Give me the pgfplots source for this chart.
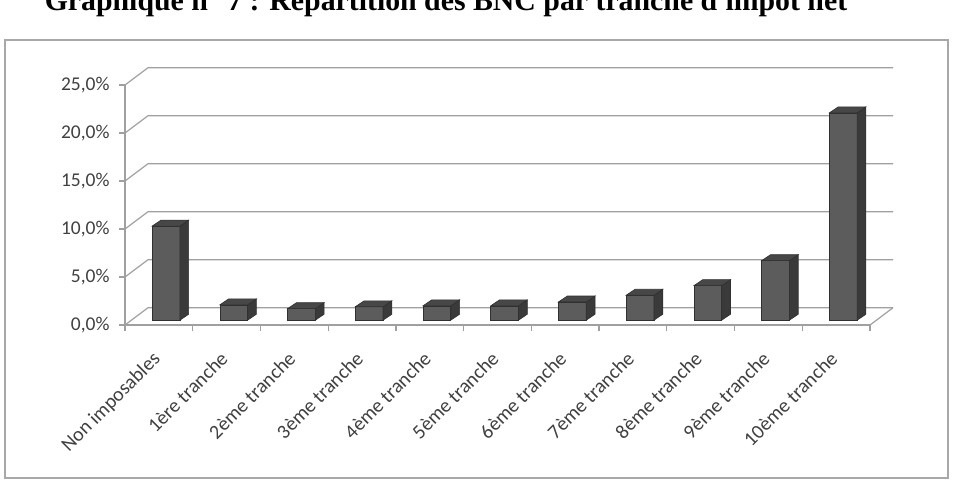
\documentclass[border=0pt]{standalone}
\usepackage{pgfplots}
\pgfplotsset{compat=1.18}
\usepackage{pgfplotstable}
\usepackage{fontspec}
\setmainfont{Carlito}
\newfontfamily\titlefont{Liberation Serif}
\definecolor{barfront}{HTML}{5C5C5C}
\definecolor{barside}{HTML}{3A3A3A}
\definecolor{bartop}{HTML}{474747}
\definecolor{baredge}{HTML}{303030}
\definecolor{gridc}{HTML}{A0A0A0}
\definecolor{labc}{HTML}{404040}
\definecolor{framec}{HTML}{A8A8A8}

\pgfplotstableread{
cat v
0 9.8
1 1.6
2 1.2
3 1.4
4 1.5
5 1.5
6 1.9
7 2.6
8 3.6
9 6.2
10 21.6
}\bnc

\begin{document}
\begin{tikzpicture}[x=1pt,y=1pt]
\useasboundingbox (0,0) rectangle (954,480);
\node[font=\titlefont\bfseries\fontsize{29.8}{32}\selectfont, anchor=base, inner sep=0pt] at (446,469) {Graphique n° 7 : Répartition des BNC par tranche d'impôt net};
\draw[framec, line width=1.2pt] (5,2) rectangle (948,440);
\begin{axis}[
  at={(125pt,155pt)}, anchor=south west,
  scale only axis, width=745pt, height=240pt,
  xmin=-0.5, xmax=10.5, ymin=0, ymax=25,
  clip=false,
  axis lines*=left,
  axis line style={gridc, line width=1.2pt},
  tick align=outside,
  ytick={0,5,...,25},
  yticklabel={\pgfmathprintnumber[fixed,fixed zerofill,precision=1,use comma,assume math mode=true]{\tick}\%},
  yticklabel style={font=\fontsize{19.5}{22}\selectfont, text=labc, xshift=-6pt},
  y tick style={gridc, line width=1.2pt},
  major tick length=6pt,
  minor tick length=6pt,
  xtick={0,...,10},
  minor xtick={-0.5,0.5,...,10.5},
  major x tick style={draw=none},
  minor x tick style={gridc, line width=1.2pt},
  xticklabels={Non imposables,1ère tranche,2ème tranche,3ème tranche,4ème tranche,5ème tranche,6ème tranche,7ème tranche,8ème tranche,9ème tranche,10ème tranche},
  xticklabel style={font=\fontsize{20}{22}\selectfont, text=labc, rotate=45, anchor=north east, xshift=-15.5pt, yshift=-5pt},
]
% back wall gridlines and floor
\pgfplotsinvokeforeach{0,5,...,25}{
  \draw[gridc, line width=1.2pt] (axis cs:-0.5,#1) -- (axis cs:-0.16,#1+1.8) -- (axis cs:10.84,#1+1.8);
}
\draw[gridc, line width=1.2pt] (axis cs:10.5,0) -- (axis cs:10.84,1.8);
% 3D bars drawn from the table values
\pgfplotsinvokeforeach{0,...,10}{
  \pgfplotstablegetelem{#1}{v}\of\bnc
  \pgfmathsetmacro\xl{#1-0.1}
  \pgfmathsetmacro\xr{#1+0.31}
  \pgfmathsetmacro\xs{#1+0.31+0.13}
  \pgfmathsetmacro\xt{#1-0.1+0.13}
  \pgfmathsetmacro\yb{0.5}
  \pgfmathsetmacro\yt{0.5+\pgfplotsretval}
  \pgfmathsetmacro\ytt{0.5+\pgfplotsretval+0.62}
  \pgfmathsetmacro\ybb{0.5+0.62}
  \edef\dobar{%
    \noexpand\addplot[fill=barfront, draw=baredge, line width=0.6pt] coordinates {(\xl,\yb) (\xr,\yb) (\xr,\yt) (\xl,\yt)} -- cycle;
    \noexpand\addplot[fill=barside, draw=baredge, line width=0.6pt] coordinates {(\xr,\yb) (\xs,\ybb) (\xs,\ytt) (\xr,\yt)} -- cycle;
    \noexpand\addplot[fill=bartop, draw=baredge, line width=0.6pt] coordinates {(\xl,\yt) (\xr,\yt) (\xs,\ytt) (\xt,\ytt)} -- cycle;
  }%
  \dobar
}
\end{axis}
\end{tikzpicture}
\end{document}
